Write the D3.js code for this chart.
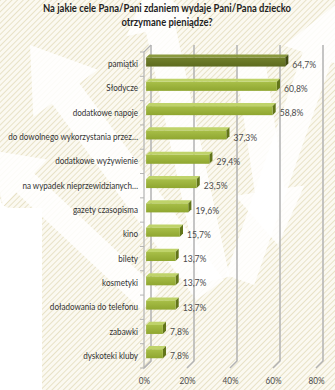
<!DOCTYPE html>
<html>
<head>
<meta charset="utf-8">
<script src="https://cdn.jsdelivr.net/npm/d3@7/dist/d3.min.js"></script>
<style>
  html, body { margin: 0; padding: 0; background: #fff; }
  svg { display: block; }
  text { font-family: Lato, "Open Sans", sans-serif; }
</style>
</head>
<body>
<svg id="chart" width="335" height="390"></svg>
<script>
// Survey answers, percent of respondents
const categories = [
  "pamiątki", "Słodycze", "dodatkowe napoje", "do dowolnego wykorzystania przez…",
  "dodatkowe wyżywienie", "na wypadek nieprzewidzianych…", "gazety czasopisma",
  "kino", "bilety", "kosmetyki", "doładowania do telefonu", "zabawki", "dyskoteki kluby"
];
const values = [64.7, 60.8, 58.8, 37.3, 29.4, 23.5, 19.6, 15.7, 13.7, 13.7, 13.7, 7.8, 7.8];
const valueLabels = ["64,7%", "60,8%", "58,8%", "37,3%", "29,4%", "23,5%", "19,6%", "15,7%", "13,7%", "13,7%", "13,7%", "7,8%", "7,8%"];
const tickValues = [0, 20, 40, 60, 80];
const tickLabels = ["0%", "20%", "40%", "60%", "80%"];
const titleLines = ["Na jakie cele Pana/Pani zdaniem wydaje Pani/Pana dziecko", "otrzymane pieniądze?"];

const svg = d3.select("#chart");
const W = 335, H = 390;
const NARROW = 0.86;   // horizontal squeeze for a narrow, Calibri-like look
const defs = svg.append("defs");

// Hatched backdrop
const pat = defs.append("pattern")
  .attr("id", "hatch").attr("patternUnits", "userSpaceOnUse")
  .attr("width", 4).attr("height", 4)
  .attr("patternTransform", "rotate(45)");
pat.append("rect").attr("width", 4).attr("height", 4).attr("fill", "#fbf9f1");
pat.append("line").attr("x1", 0).attr("y1", 0).attr("x2", 0).attr("y2", 4)
  .attr("stroke", "#e4dcbc").attr("stroke-width", 1.6);

const bg = svg.append("g");
bg.append("path")
  .attr("d", `M0,0 H${W} V${H} H42 V208 H12 Q0,208 0,196 Z`)
  .attr("fill", "url(#hatch)");

// White arrows radiating over the backdrop
function arrowPath(x0, y0, x1, y1, shaft, head, headLen) {
  const dx = x1 - x0, dy = y1 - y0, L = Math.hypot(dx, dy);
  const ux = dx / L, uy = dy / L, nx = -uy, ny = ux;
  const bx = x1 - ux * headLen, by = y1 - uy * headLen;
  const p = (x, y, s) => [x + nx * s, y + ny * s];
  const pts = [p(x0, y0, shaft / 2), p(bx, by, shaft / 2), p(bx, by, head / 2), [x1, y1],
               p(bx, by, -head / 2), p(bx, by, -shaft / 2), p(x0, y0, -shaft / 2)];
  return "M" + pts.map(q => q.join(",")).join("L") + "Z";
}
const arrows = [
  [210, 290, 30, 45, 34, 80, 60],
  [150, 300, -10, 150, 26, 64, 48],
  [215, 280, 150, -20, 30, 70, 50],
  [240, 280, 335, 5, 30, 70, 55],
  [250, 60, 278, 245, 30, 70, 55]
];
bg.selectAll("path.arrow").data(arrows).join("path")
  .attr("class", "arrow")
  .attr("d", a => arrowPath(...a))
  .attr("fill", "#ffffff").attr("opacity", 0.85);

// Title
svg.append("g").selectAll("text").data(titleLines).join("text")
  .attr("transform", (d, i) => `translate(167,${12 + i * 14}) scale(${NARROW},1)`)
  .attr("text-anchor", "middle")
  .attr("font-size", 11).attr("font-weight", "bold").attr("fill", "#1f1f1f")
  .text(d => d);

// Scales on the front plane; the back wall is offset by DX, DY
const x = d3.scaleLinear().domain([0, 80]).range([144, 316]);
const y = d3.scaleBand().domain(categories).range([52, 368]);
const DX = 7, DY = -7;
const yTop = y.range()[0], yBot = y.range()[1];

const grid = svg.append("g").attr("stroke", "#b3b3b3").attr("fill", "none");
// Back-wall gridlines with their floor segments
grid.selectAll("path.gl").data(tickValues).join("path")
  .attr("class", "gl")
  .attr("stroke-width", 1.5)
  .attr("d", t => `M${x(t) + DX},${yTop + DY} V${yBot + DY} L${x(t)},${yBot}`);
// Left wall
grid.append("path").attr("stroke-width", 1.2)
  .attr("d", `M${x(0) + DX},${yTop + DY} L${x(0)},${yTop} V${yBot} L${x(0) + DX},${yBot + DY}`);
// Category tick marks at band edges
const edges = categories.map(c => y(c)).concat([yBot]);
grid.selectAll("line.tk").data(edges).join("line")
  .attr("class", "tk")
  .attr("x1", x(0) - 4).attr("x2", x(0)).attr("y1", e => e).attr("y2", e => e)
  .attr("stroke-width", 1);

// Bar gradients
function grad(id, c0, c1) {
  const g = defs.append("linearGradient").attr("id", id)
    .attr("x1", 0).attr("y1", 0).attr("x2", 0).attr("y2", 1);
  g.append("stop").attr("offset", 0).attr("stop-color", c0);
  g.append("stop").attr("offset", 1).attr("stop-color", c1);
}
grad("gLight", "#a8bf48", "#8fa630");
grad("gDark", "#71802b", "#5d6b1f");

const f0 = 0.3, f1 = 0.75;           // bar depth as fraction of wall depth
const barH = 9;
const bars = svg.append("g");
const rows = categories.map((c, i) => ({ c, v: values[i], lab: valueLabels[i], i }));

bars.selectAll("g.bar").data(rows).join("g").attr("class", "bar").each(function (d) {
  const g = d3.select(this);
  const dark = d.i === 0;
  const cy = y(d.c) + y.bandwidth() / 2;
  const fx = DX * f0, fy = DY * f0, bx = DX * f1, by = DY * f1;
  const x0 = x(0) + fx, x1 = x(d.v) + fx;
  const yt = cy - barH / 2 + fy, yb = cy + barH / 2 + fy;
  const ddx = bx - fx, ddy = by - fy;
  // top face
  g.append("path")
    .attr("d", `M${x0},${yt} L${x0 + ddx},${yt + ddy} L${x1 + ddx},${yt + ddy} L${x1},${yt} Z`)
    .attr("fill", dark ? "#8b9a3f" : "#bfd36a");
  // end face
  g.append("path")
    .attr("d", `M${x1},${yt} L${x1 + ddx},${yt + ddy} L${x1 + ddx},${yb + ddy} L${x1},${yb} Z`)
    .attr("fill", dark ? "#414b12" : "#627519");
  // front face
  g.append("rect")
    .attr("x", x0).attr("y", yt).attr("width", x1 - x0).attr("height", barH)
    .attr("fill", dark ? "url(#gDark)" : "url(#gLight)");
  // value label
  g.append("text")
    .attr("transform", `translate(${x1 + ddx + 4},${cy}) scale(${NARROW},1)`)
    .attr("dy", "0.35em")
    .attr("font-size", 10).attr("fill", "#4a4a4a")
    .text(d.lab);
});

// Category axis labels
const yAxis = svg.append("g")
  .attr("transform", `translate(${x(0) - 6},0)`)
  .call(d3.axisLeft(y).tickSize(0).tickPadding(0));
yAxis.select(".domain").remove();
yAxis.selectAll("text").attr("font-size", 9.4).attr("fill", "#333")
  .attr("transform", `scale(${NARROW},1)`)
  .attr("font-family", "Lato, 'Open Sans', sans-serif");

// Value axis labels on the front floor
const xAxis = svg.append("g")
  .attr("transform", `translate(0,${yBot + 6})`)
  .call(d3.axisBottom(x).tickValues(tickValues).tickFormat((d, i) => tickLabels[i]).tickSize(0).tickPadding(3));
xAxis.select(".domain").remove();
xAxis.selectAll("text").attr("font-size", 9.5).attr("fill", "#4a4a4a")
  .attr("transform", `scale(${NARROW},1)`)
  .attr("font-family", "Lato, 'Open Sans', sans-serif");
</script>
</body>
</html>
